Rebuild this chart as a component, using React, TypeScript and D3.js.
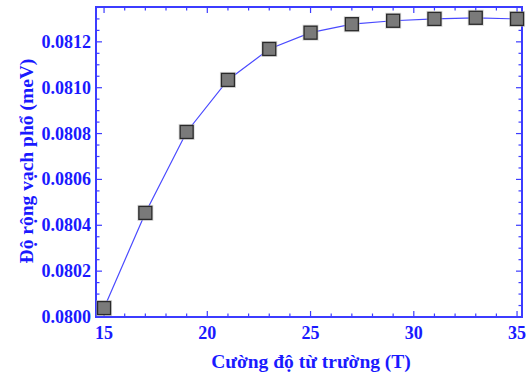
import React, { useRef, useEffect } from "react";
import * as d3 from "d3";

// field strength (T) and line width (meV)
const fieldT = [15, 17, 19, 21, 23, 25, 27, 29, 31, 33, 35];
const widthMeV = [
  0.080039, 0.080454, 0.080807, 0.081034, 0.081169, 0.08124, 0.081277,
  0.081292, 0.0813, 0.081305, 0.0813,
];
const xTicks = [15, 20, 25, 30, 35];
const yTicks = [0.08, 0.0802, 0.0804, 0.0806, 0.0808, 0.081, 0.0812];
const xLabel = "Cường độ từ trường (T)";
const yLabel = "Độ rộng vạch phổ (meV)";

const W = 528;
const H = 381;
const margin = { left: 96, right: 6, top: 7, bottom: 64 };
const axisColor = "#3c3cff";
const textColor = "#1a1aff";
const font = "'Liberation Serif', 'Times New Roman', serif";

const App = () => {
  const svgRef = useRef<SVGSVGElement>(null);

  useEffect(() => {
    const innerW = W - margin.left - margin.right;
    const innerH = H - margin.top - margin.bottom;
    const xScale = d3.scaleLinear().domain([14.61, 35.24]).range([0, innerW]);
    const yScale = d3.scaleLinear().domain([0.08, 0.081352]).range([innerH, 0]);

    const svgEl = d3.select(svgRef.current);
    svgEl.selectAll("*").remove();
    const svg = svgEl
      .append("g")
      .attr("transform", `translate(${margin.left},${margin.top})`);

    // minor + major ticks, inward on all four sides
    const xMinor = d3.range(15, 36, 1);
    const yMinor = d3.range(0.08, 0.08135, 0.00005);
    const ticks = svg.append("g").attr("stroke", axisColor).attr("stroke-width", 1.2);
    xMinor.forEach((v) => {
      const len = v % 5 === 0 ? 6 : 3.5;
      const x = xScale(v);
      ticks.append("line").attr("x1", x).attr("x2", x).attr("y1", innerH).attr("y2", innerH - len);
      ticks.append("line").attr("x1", x).attr("x2", x).attr("y1", 0).attr("y2", len);
    });
    yMinor.forEach((v, i) => {
      const len = i % 4 === 0 ? 6 : 3.5;
      const y = yScale(v);
      ticks.append("line").attr("x1", 0).attr("x2", len).attr("y1", y).attr("y2", y);
      ticks.append("line").attr("x1", innerW).attr("x2", innerW - len).attr("y1", y).attr("y2", y);
    });

    // frame
    svg
      .append("rect")
      .attr("width", innerW)
      .attr("height", innerH)
      .attr("fill", "none")
      .attr("stroke", axisColor)
      .attr("stroke-width", 2);

    // tick labels
    svg
      .append("g")
      .selectAll("text")
      .data(xTicks)
      .enter()
      .append("text")
      .attr("x", (d) => xScale(d))
      .attr("y", innerH + 22)
      .attr("text-anchor", "middle")
      .attr("font-family", font)
      .attr("font-weight", "bold")
      .attr("font-size", 18)
      .attr("fill", textColor)
      .text((d) => d);
    svg
      .append("g")
      .selectAll("text")
      .data(yTicks)
      .enter()
      .append("text")
      .attr("x", -5)
      .attr("y", (d) => yScale(d) + 6)
      .attr("text-anchor", "end")
      .attr("font-family", font)
      .attr("font-weight", "bold")
      .attr("font-size", 18)
      .attr("fill", textColor)
      .text((d) => d.toFixed(4));

    // axis titles
    svg
      .append("text")
      .attr("x", 311 - margin.left)
      .attr("y", innerH + 51)
      .attr("text-anchor", "middle")
      .attr("font-family", font)
      .attr("font-weight", "bold")
      .attr("font-size", 19.5)
      .attr("fill", textColor)
      .text(xLabel);
    svg
      .append("text")
      .attr("transform", `translate(${33 - margin.left},${161 - margin.top}) rotate(-90)`)
      .attr("text-anchor", "middle")
      .attr("font-family", font)
      .attr("font-weight", "bold")
      .attr("font-size", 19.5)
      .attr("fill", textColor)
      .text(yLabel);

    // line
    const line = d3
      .line<number>()
      .x((d, i) => xScale(fieldT[i]))
      .y((d) => yScale(d));
    svg
      .append("path")
      .attr("d", line(widthMeV))
      .attr("fill", "none")
      .attr("stroke", "#4a4aff")
      .attr("stroke-width", 1.2);

    // square markers with soft halo
    const s = 13;
    const pts = svg.append("g");
    widthMeV.forEach((v, i) => {
      const cx = xScale(fieldT[i]);
      const cy = yScale(v);
      pts
        .append("rect")
        .attr("x", cx - s / 2 - 1.5)
        .attr("y", cy - s / 2 - 1.5)
        .attr("width", s + 3)
        .attr("height", s + 3)
        .attr("fill", "#b0b0b0")
        .attr("opacity", 0.5);
      pts
        .append("rect")
        .attr("x", cx - s / 2)
        .attr("y", cy - s / 2)
        .attr("width", s)
        .attr("height", s)
        .attr("fill", "#7a7a7a")
        .attr("stroke", "#2a2a2a")
        .attr("stroke-width", 1.3);
    });
  }, []);

  return (
    <svg
      ref={svgRef}
      width={W}
      height={H}
      style={{ position: "absolute", left: 0, top: 0, background: "#fff" }}
    />
  );
};

export default App;
